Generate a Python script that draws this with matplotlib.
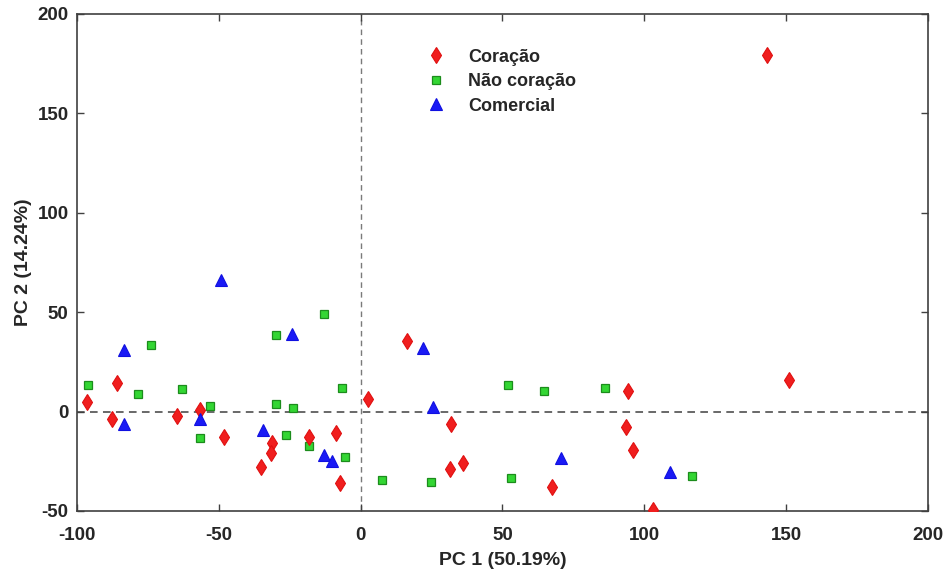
import numpy as np
import matplotlib.pyplot as plt

plt.rcParams['font.family'] = ['Liberation Sans', 'DejaVu Sans']
plt.rcParams['font.weight'] = 'bold'
plt.rcParams['axes.unicode_minus'] = False

# PCA scores
coracao_x = [-96.3, -85.8, -87.8, -64.9, -56.5, -48.3, -35.2, -31.4, -31.6, -18.3,
             -8.7, -7.3, 2.6, 16.3, 31.8, 31.6, 36.2, 67.3, 94.3, 93.6, 96.1,
             102.9, 151.0, 143.1]
coracao_y = [5.0, 14.4, -3.9, -2.4, 0.6, -12.9, -27.7, -15.6, -20.7, -12.9,
             -10.8, -35.9, 6.3, 35.4, -6.1, -29.0, -26.0, -38.1, 10.4, -7.7, -19.5,
             -49.3, 15.9, 179.4]

nao_coracao_x = [-96.0, -73.9, -78.5, -62.9, -53.1, -56.8, -29.7, -29.9, -23.8, -26.4,
                 -18.2, -12.8, -6.7, -5.4, 7.5, 24.8, 51.8, 64.7, 52.9, 86.1, 116.7]
nao_coracao_y = [13.2, 33.5, 9.0, 11.4, 2.7, -13.4, 38.5, 3.8, 1.8, -11.8,
                 -17.3, 49.2, 12.0, -22.7, -34.4, -35.6, 13.2, 10.4, -33.4, 11.7, -32.2]

comercial_x = [-83.4, -83.5, -49.2, -56.8, -34.3, -24.2, 22.1, 25.6, -12.9, -10.2, 70.6, 109.0]
comercial_y = [31.0, -6.2, 66.2, -3.9, -9.3, 38.9, 31.8, 2.5, -22.0, -24.8, -23.5, -30.2]

fig = plt.figure(figsize=(9.48, 5.71), dpi=100)
ax = fig.add_axes([0.0812, 0.1051, 0.8977, 0.8704])

ax.axhline(0, color='#404040', linestyle=(0, (5, 3.5)), linewidth=1.1, zorder=1)
ax.axvline(0, color='#7a7a7a', linestyle=(0, (4, 3)), linewidth=1.0, zorder=1)

h2, = ax.plot(nao_coracao_x, nao_coracao_y, 's', ms=6, mfc='#33d633', mec='#1c8c1c',
              mew=0.9, label='Não coração', zorder=3)
h1, = ax.plot(coracao_x, coracao_y, 'd', ms=8, mfc='#f01e1e', mec='#e01010',
              mew=0.8, label='Coração', zorder=4)
h3, = ax.plot(comercial_x, comercial_y, '^', ms=8.5, mfc='#1a1af5', mec='#1010e0',
              mew=0.8, label='Comercial', zorder=5)

ax.set_xlim(-100, 200)
ax.set_ylim(-50, 200)
ax.set_xticks(np.arange(-100, 201, 50))
ax.set_yticks(np.arange(-50, 201, 50))
ax.tick_params(direction='in', top=True, right=True, length=5, width=1,
               color='#404040', labelsize=13.5)
ax.tick_params(axis='x', pad=11.5)
ax.tick_params(axis='y', pad=6)
for lbl in ax.get_xticklabels() + ax.get_yticklabels():
    lbl.set_fontweight('bold')
    lbl.set_color('#262626')
for s in ax.spines.values():
    s.set_linewidth(1.2)
    s.set_color('#404040')

ax.set_xlabel('PC 1 (50.19%)', fontsize=14, fontweight='bold', color='#262626', labelpad=5.5)
ax.set_ylabel('PC 2 (14.24%)', fontsize=14, fontweight='bold', color='#262626', labelpad=4)

leg = ax.legend(handles=[h1, h2, h3], loc='upper left', bbox_to_anchor=(0.39, 0.963),
                frameon=False, fontsize=13, handlelength=1.2, handletextpad=1.2,
                labelspacing=0.42, numpoints=1)
for t in leg.get_texts():
    t.set_fontweight('bold')
    t.set_color('#262626')

fig.savefig('out.png', dpi=100)
